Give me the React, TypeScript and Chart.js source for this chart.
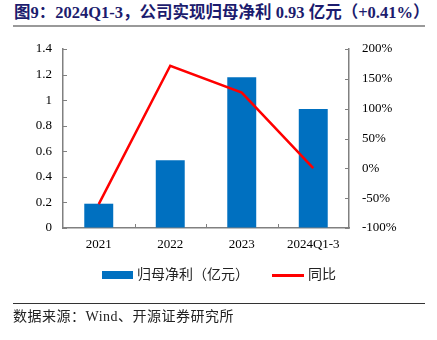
import React, { useEffect, useRef } from "react";
import { Chart, registerables } from "chart.js";

Chart.register(...registerables);

const categories = ["2021", "2022", "2023", "2024Q1-3"];
const profitValues = [0.19, 0.53, 1.18, 0.93];
const yoyValues = [-60, 172, 127, 0.41];
const leftTicks = [0, 0.2, 0.4, 0.6, 0.8, 1, 1.2, 1.4];
const rightTicks = [-100, -50, 0, 50, 100, 150, 200];

const SERIF = '"Liberation Serif", "Times New Roman", "Noto Sans CJK SC", serif';
const CJK = '"Liberation Serif", "Noto Sans CJK SC", serif';

const innerTicks = {
  id: "innerTicks",
  afterDatasetsDraw(chart: any) {
    const { ctx, chartArea, scales } = chart;
    const x = scales.x, y = scales.y, y1 = scales.y1;
    ctx.save();
    ctx.strokeStyle = "#808080";
    ctx.lineWidth = 1;
    ctx.beginPath();
    y.ticks.forEach((t: any) => {
      const py = Math.round(y.getPixelForValue(t.value)) + 0.5;
      ctx.moveTo(chartArea.left, py);
      ctx.lineTo(chartArea.left + 4, py);
    });
    y1.ticks.forEach((t: any) => {
      const py = Math.round(y1.getPixelForValue(t.value)) + 0.5;
      ctx.moveTo(chartArea.right, py);
      ctx.lineTo(chartArea.right - 4, py);
    });
    for (let i = 0; i < categories.length - 1; i++) {
      const px = Math.round((x.getPixelForValue(i) + x.getPixelForValue(i + 1)) / 2) + 0.5;
      ctx.moveTo(px, chartArea.bottom);
      ctx.lineTo(px, chartArea.bottom - 4);
    }
    ctx.stroke();
    ctx.restore();
  },
};

export default function App() {
  const ref = useRef<HTMLCanvasElement | null>(null);
  useEffect(() => {
    document.body.style.margin = "0";
    if (!ref.current) return;
    const axisBorder = { display: true, color: "#808080", width: 1.5 };
    const grid = { display: true, drawOnChartArea: false, drawTicks: false };
    const chart = new Chart(ref.current, {
      type: "bar",
      data: {
        labels: categories,
        datasets: [
          {
            type: "line",
            label: "同比",
            data: yoyValues,
            borderColor: "#FF0000",
            backgroundColor: "#FF0000",
            borderWidth: 2.5,
            pointRadius: 0,
            tension: 0,
            yAxisID: "y1",
            order: 0,
          } as any,
          {
            type: "bar",
            label: "归母净利（亿元）",
            data: profitValues,
            backgroundColor: "#0070C0",
            categoryPercentage: 1,
            barPercentage: 0.405,
            yAxisID: "y",
            order: 1,
          },
        ],
      },
      plugins: [innerTicks],
      options: {
        responsive: false,
        animation: false,
        devicePixelRatio: 1,
        layout: { padding: { top: 49, bottom: 82, left: 0, right: 0 } },
        plugins: { legend: { display: false }, tooltip: { enabled: false } },
        scales: {
          x: {
            grid: grid,
            border: axisBorder,
            ticks: { color: "#000", font: { family: SERIF, size: 13 }, padding: 9 },
            afterFit: (s: any) => { s.height = 30; },
          },
          y: {
            position: "left",
            min: 0,
            max: 1.4,
            grid: grid,
            border: axisBorder,
            afterBuildTicks: (s: any) => { s.ticks = leftTicks.map((v) => ({ value: v })); },
            ticks: {
              color: "#000",
              font: { family: SERIF, size: 13 },
              padding: 11,
              callback: (v: any) => String(Math.round(Number(v) * 10) / 10),
            },
            afterFit: (s: any) => { s.width = 63; },
          },
          y1: {
            position: "right",
            min: -100,
            max: 200,
            grid: grid,
            border: axisBorder,
            afterBuildTicks: (s: any) => { s.ticks = rightTicks.map((v) => ({ value: v })); },
            ticks: {
              color: "#000",
              font: { family: SERIF, size: 13 },
              padding: 13,
              callback: (v: any) => `${v}%`,
            },
            afterFit: (s: any) => { s.width = 88; },
          },
        },
      },
    });
    return () => chart.destroy();
  }, []);

  return (
    <div style={{ position: "relative", width: 437, height: 340, background: "#fff", overflow: "hidden" }}>
      <div
        style={{
          position: "absolute", left: 14, top: 2, fontFamily: CJK, fontWeight: "bold",
          fontSize: 16.5, color: "#1c1c6e", whiteSpace: "nowrap", lineHeight: "21px",
        }}
      >
        图9：2024Q1-3，公司实现归母净利 0.93 亿元（+0.41%）
      </div>
      <div style={{ position: "absolute", left: 13, top: 25, width: 412, height: 2, background: "#999" }} />
      <canvas ref={ref} width={437} height={340} style={{ position: "absolute", left: 0, top: 0 }} />
      <div style={{ position: "absolute", left: 102, top: 271, width: 31, height: 8, background: "#0070C0" }} />
      <div
        style={{
          position: "absolute", left: 137, top: 266, fontFamily: CJK, fontSize: 14,
          color: "#222", whiteSpace: "nowrap", lineHeight: "18px",
        }}
      >
        归母净利（亿元）
      </div>
      <div style={{ position: "absolute", left: 272, top: 274, width: 32, height: 2.5, background: "#FF0000" }} />
      <div
        style={{
          position: "absolute", left: 308, top: 266, fontFamily: CJK, fontSize: 14,
          color: "#222", whiteSpace: "nowrap", lineHeight: "18px",
        }}
      >
        同比
      </div>
      <div style={{ position: "absolute", left: 13, top: 303, width: 412, height: 1, background: "#333" }} />
      <div
        style={{
          position: "absolute", left: 13, top: 308, fontFamily: CJK, fontSize: 14,
          color: "#222", whiteSpace: "nowrap", lineHeight: "18px", letterSpacing: "0.5px",
        }}
      >
        数据来源：Wind、开源证券研究所
      </div>
    </div>
  );
}
